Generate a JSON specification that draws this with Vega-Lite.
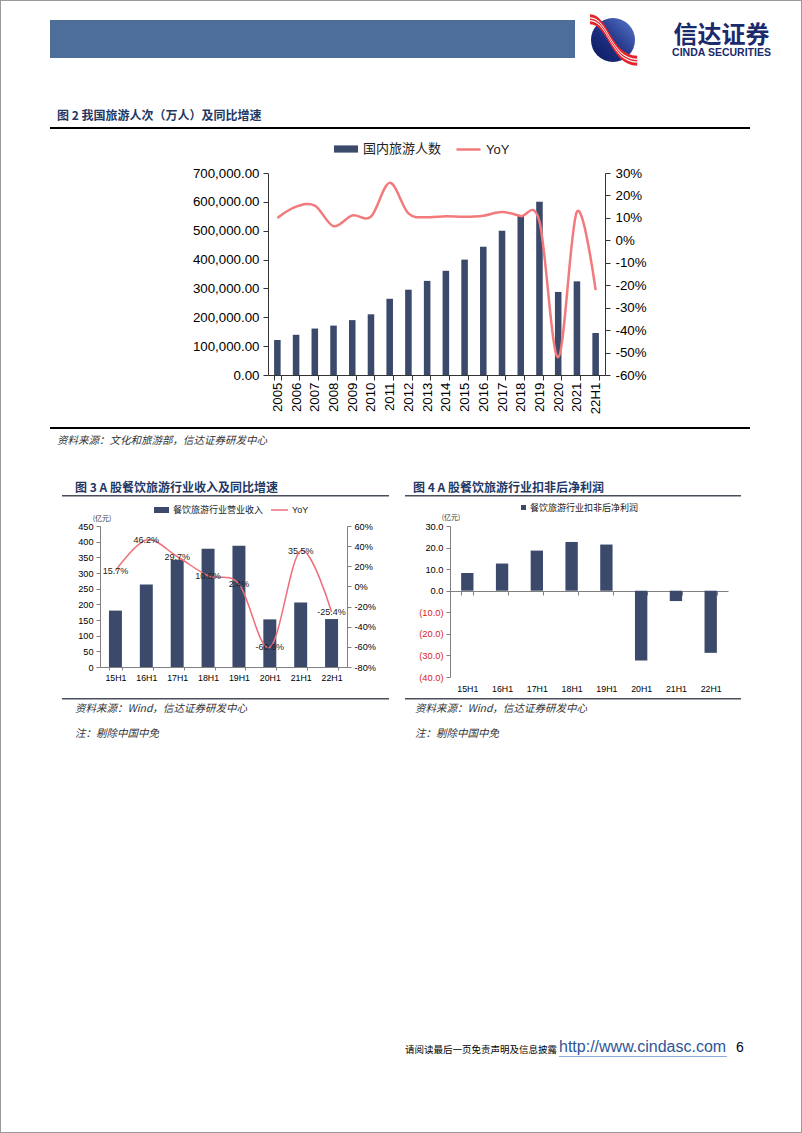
{
"$schema": "https://vega.github.io/schema/vega-lite/v6.json",
"background": "white",
"padding": 0,
"spacing": 0,
"bounds": "flush",
"config": {
  "view": {"stroke": null},
  "font": "Liberation Sans",
  "axis": {"grid": false, "labelOverlap": false, "labelFont": "Liberation Sans", "labelColor": "#000", "domainColor": "#333", "tickColor": "#333"},
  "legend": {"padding": 0},
  "locale": {"number": {"decimal": ".", "thousands": ",", "grouping": [3], "currency": ["$", ""], "minus": "-"}}
},
"resolve": {"scale": {"fill": "independent", "stroke": "independent", "size": "independent", "theta": "independent"}, "legend": {"fill": "independent", "stroke": "independent", "size": "independent"}},
"vconcat": [
  {"width": 802, "height": 1, "data": {"values": []}, "mark": "point", "view": {"fill": "#9a9a9a", "stroke": null}},
  {"width": 802, "height": 19, "data": {"values": []}, "mark": "point", "view": {"stroke": null, "fill": {"gradient": "linear", "x1": 0, "y1": 0, "x2": 1, "y2": 0, "stops": [{"offset": 0, "color": "#9a9a9a"}, {"offset": 0.00124, "color": "#9a9a9a"}, {"offset": 0.00126, "color": "rgba(255,255,255,0)"}, {"offset": 0.99874, "color": "rgba(255,255,255,0)"}, {"offset": 0.99876, "color": "#9a9a9a"}, {"offset": 1, "color": "#9a9a9a"}]}}},
  {"hconcat": [
    {"width": 50, "height": 0, "data": {"values": []}, "mark": "point"},
    {"width": 525, "height": 38, "data": {"values": []}, "mark": "point", "view": {"fill": "#4D6E98", "stroke": null}},
    {"width": 76, "height": 40, "data": {"values": [{"v": 1}]},
     "layer": [
       {"mark": {"type": "arc", "outerRadius": 22, "fill": {"gradient": "linear", "x1": 1, "y1": 0, "x2": 0, "y2": 1, "stops": [{"offset": 0, "color": "#5A78CC"}, {"offset": 0.6, "color": "#1A2C7E"}, {"offset": 1, "color": "#0B1A5C"}]}},
        "encoding": {"theta": {"field": "v", "type": "quantitative"}}},
       {"mark": {"type": "point", "filled": true, "opacity": 1, "color": "#E3262D", "strokeWidth": 0, "size": 2116, "shape": "M-1,-1.12C-0.2,-1.12 -0.1,0.68 1.05,0.68L1.05,1.12C-0.1,1.12 -0.2,-0.68 -1,-0.68Z"},
        "encoding": {}},
       {"mark": {"type": "point", "filled": true, "opacity": 1, "color": "#FFFFFF", "strokeWidth": 0, "size": 2116, "shape": "M-1,-0.99C-0.2,-0.99 -0.1,0.81 1.05,0.81L1.05,0.87C-0.1,0.87 -0.2,-0.93 -1,-0.93Z"},
        "encoding": {}},
       {"mark": {"type": "point", "filled": true, "opacity": 1, "color": "#FFFFFF", "strokeWidth": 0, "size": 2116, "shape": "M-1,-0.87C-0.2,-0.87 -0.1,0.93 1.05,0.93L1.05,0.99C-0.1,0.99 -0.2,-0.81 -1,-0.81Z"},
        "encoding": {}}
     ]},
    {"width": 141, "height": 38,
     "data": {"values": [{"t": "信达证券", "k": "a"}, {"t": "CINDA SECURITIES", "k": "b"}]},
     "mark": {"type": "text", "fontWeight": "bold", "color": "#1B2A6B", "font": "Liberation Sans, Noto Sans CJK SC", "baseline": "middle", "align": "center"},
     "encoding": {
       "text": {"field": "t"},
       "y": {"field": "k", "type": "nominal", "axis": null, "scale": {"range": [15.5, 33], "padding": 0}},
       "size": {"field": "k", "type": "nominal", "legend": null, "scale": {"range": [24, 10.5]}}
     }}
  ], "spacing": 0, "bounds": "flush",
   "resolve": {"scale": {"size": "independent", "theta": "independent"}, "legend": {"size": "independent"}}},
  {"width": 802, "height": 107, "data": {"values": []}, "mark": "point", "view": {"stroke": null, "fill": {"gradient": "linear", "x1": 0, "y1": 0, "x2": 1, "y2": 0, "stops": [{"offset": 0, "color": "#9a9a9a"}, {"offset": 0.00124, "color": "#9a9a9a"}, {"offset": 0.00126, "color": "rgba(255,255,255,0)"}, {"offset": 0.99874, "color": "rgba(255,255,255,0)"}, {"offset": 0.99876, "color": "#9a9a9a"}, {"offset": 1, "color": "#9a9a9a"}]}}},
  {"hconcat": [
    {"width": 50, "height": 0, "data": {"values": []}, "mark": "point"},
    {"width": 700, "height": 2, "data": {"values": []}, "mark": "point", "view": {"fill": "#000000", "stroke": null},
     "title": {"text": "图 2 我国旅游人次（万人）及同比增速", "anchor": "start", "frame": "group", "dx": 7, "offset": 4.5, "fontSize": 12, "font": "Noto Sans CJK SC", "fontWeight": "bold", "color": "#1F3864"}}
  ], "spacing": 0, "bounds": "flush"},
  {"width": 802, "height": 46, "data": {"values": []}, "mark": "point", "view": {"stroke": null, "fill": {"gradient": "linear", "x1": 0, "y1": 0, "x2": 1, "y2": 0, "stops": [{"offset": 0, "color": "#9a9a9a"}, {"offset": 0.00124, "color": "#9a9a9a"}, {"offset": 0.00126, "color": "rgba(255,255,255,0)"}, {"offset": 0.99874, "color": "rgba(255,255,255,0)"}, {"offset": 0.99876, "color": "#9a9a9a"}, {"offset": 1, "color": "#9a9a9a"}]}}},
  {"hconcat": [
    {"width": 268, "height": 0, "data": {"values": []}, "mark": "point"},
    {"width": 337, "height": 202,
     "data": {"values": [
       {"year": "2005", "visitors": 121200, "yoy": 0.100},
       {"year": "2006", "visitors": 139400, "yoy": 0.150},
       {"year": "2007", "visitors": 161000, "yoy": 0.155},
       {"year": "2008", "visitors": 171200, "yoy": 0.063},
       {"year": "2009", "visitors": 190200, "yoy": 0.111},
       {"year": "2010", "visitors": 210300, "yoy": 0.106},
       {"year": "2011", "visitors": 264100, "yoy": 0.256},
       {"year": "2012", "visitors": 295700, "yoy": 0.120},
       {"year": "2013", "visitors": 326200, "yoy": 0.103},
       {"year": "2014", "visitors": 361100, "yoy": 0.107},
       {"year": "2015", "visitors": 399900, "yoy": 0.105},
       {"year": "2016", "visitors": 444000, "yoy": 0.110},
       {"year": "2017", "visitors": 500100, "yoy": 0.126},
       {"year": "2018", "visitors": 553900, "yoy": 0.108},
       {"year": "2019", "visitors": 600600, "yoy": 0.084},
       {"year": "2020", "visitors": 287900, "yoy": -0.521},
       {"year": "2021", "visitors": 324600, "yoy": 0.128},
       {"year": "22H1", "visitors": 145500, "yoy": -0.222}
     ]},
     "encoding": {"x": {"field": "year", "type": "nominal", "sort": null, "scale": {"paddingInner": 0.65, "paddingOuter": 0.325},
       "axis": {"title": null, "labelAngle": 270, "labelFontSize": 13.3, "tickBand": "extent", "tickSize": 5, "labelPadding": 2}}},
     "layer": [
       {"mark": {"type": "bar"},
        "encoding": {
          "y": {"field": "visitors", "type": "quantitative", "scale": {"domain": [0, 700000], "nice": false},
            "axis": {"title": null, "values": [0, 100000, 200000, 300000, 400000, 500000, 600000, 700000], "format": ",.2f", "labelFontSize": 13.3, "tickSize": 5, "labelPadding": 4}},
          "fill": {"datum": "国内旅游人数", "type": "nominal", "scale": {"range": ["#3B4A6B"]},
            "legend": {"title": null, "orient": "none", "legendX": 65, "legendY": -37, "symbolType": "M-1,-0.3H1V0.3H-1Z", "symbolSize": 576, "labelFontSize": 13, "labelFont": "Noto Sans CJK SC", "labelOffset": 4, "labelColor": "#222"}}
        }},
       {"mark": {"type": "line", "interpolate": "cardinal", "strokeWidth": 2.5},
        "encoding": {
          "y": {"field": "yoy", "type": "quantitative", "scale": {"domain": [-0.6, 0.3], "nice": false, "zero": false},
            "axis": {"title": null, "orient": "right", "values": [-0.6, -0.5, -0.4, -0.3, -0.2, -0.1, 0, 0.1, 0.2, 0.3], "format": ".0%", "labelFontSize": 13.3, "tickSize": 5, "labelPadding": 5}},
          "stroke": {"datum": "YoY", "type": "nominal", "scale": {"range": ["#F27A7D"]},
            "legend": {"title": null, "orient": "none", "legendX": 187, "legendY": -37, "symbolType": "stroke", "symbolSize": 576, "symbolStrokeWidth": 2.5, "labelFontSize": 13, "labelOffset": 4, "labelColor": "#222"}}
        }}
     ],
     "resolve": {"scale": {"y": "independent"}}
    }
  ], "spacing": 0, "bounds": "flush",
   "resolve": {"scale": {"fill": "independent", "stroke": "independent"}, "legend": {"fill": "independent", "stroke": "independent"}}},
  {"width": 802, "height": 254, "data": {"values": []}, "mark": "point", "view": {"stroke": null, "fill": {"gradient": "linear", "x1": 0, "y1": 0, "x2": 1, "y2": 0, "stops": [{"offset": 0, "color": "#9a9a9a"}, {"offset": 0.00124, "color": "#9a9a9a"}, {"offset": 0.00126, "color": "rgba(255,255,255,0)"}, {"offset": 0.99874, "color": "rgba(255,255,255,0)"}, {"offset": 0.99876, "color": "#9a9a9a"}, {"offset": 1, "color": "#9a9a9a"}]}}},
  {"hconcat": [
    {"width": 50, "height": 0, "data": {"values": []}, "mark": "point"},
    {"width": 700, "height": 2, "data": {"values": []}, "mark": "point", "view": {"fill": "#000000", "stroke": null},
     "title": {"text": "资料来源：文化和旅游部，信达证券研发中心", "orient": "bottom", "anchor": "start", "frame": "group", "dx": 7, "offset": 7, "fontSize": 10.5, "fontStyle": "italic", "fontWeight": "normal", "font": "Noto Sans CJK SC", "color": "#333"}}
  ], "spacing": 0, "bounds": "flush"},
  {"width": 802, "height": 68, "data": {"values": []}, "mark": "point", "view": {"stroke": null, "fill": {"gradient": "linear", "x1": 0, "y1": 0, "x2": 1, "y2": 0, "stops": [{"offset": 0, "color": "#9a9a9a"}, {"offset": 0.00124, "color": "#9a9a9a"}, {"offset": 0.00126, "color": "rgba(255,255,255,0)"}, {"offset": 0.99874, "color": "rgba(255,255,255,0)"}, {"offset": 0.99876, "color": "#9a9a9a"}, {"offset": 1, "color": "#9a9a9a"}]}}},
  {"hconcat": [
    {"width": 62, "height": 0, "data": {"values": []}, "mark": "point"},
    {"width": 327, "height": 1.5, "data": {"values": []}, "mark": "point", "view": {"fill": "#4A4F5C", "stroke": null},
     "title": {"text": "图 3 A 股餐饮旅游行业收入及同比增速", "anchor": "start", "frame": "group", "dx": 13, "offset": 0.5, "fontSize": 12, "font": "Noto Sans CJK SC", "fontWeight": "bold", "color": "#1F3864"}},
    {"width": 16, "height": 0, "data": {"values": []}, "mark": "point"},
    {"width": 336, "height": 1.5, "data": {"values": []}, "mark": "point", "view": {"fill": "#4A4F5C", "stroke": null},
     "title": {"text": "图 4 A 股餐饮旅游行业扣非后净利润", "anchor": "start", "frame": "group", "dx": 8, "offset": 0.5, "fontSize": 12, "font": "Noto Sans CJK SC", "fontWeight": "bold", "color": "#1F3864"}}
  ], "spacing": 0, "bounds": "flush"},
  {"width": 802, "height": 31, "data": {"values": []}, "mark": "point", "view": {"stroke": null, "fill": {"gradient": "linear", "x1": 0, "y1": 0, "x2": 1, "y2": 0, "stops": [{"offset": 0, "color": "#9a9a9a"}, {"offset": 0.00124, "color": "#9a9a9a"}, {"offset": 0.00126, "color": "rgba(255,255,255,0)"}, {"offset": 0.99874, "color": "rgba(255,255,255,0)"}, {"offset": 0.99876, "color": "#9a9a9a"}, {"offset": 1, "color": "#9a9a9a"}]}}},
  {"hconcat": [
    {"width": 100, "height": 0, "data": {"values": []}, "mark": "point"},
    {"width": 247, "height": 141,
     "data": {"values": [
       {"p": "15H1", "rev": 180, "yoy": 0.157},
       {"p": "16H1", "rev": 263, "yoy": 0.462},
       {"p": "17H1", "rev": 342, "yoy": 0.297},
       {"p": "18H1", "rev": 377, "yoy": 0.106},
       {"p": "19H1", "rev": 387, "yoy": 0.024},
       {"p": "20H1", "rev": 152, "yoy": -0.606},
       {"p": "21H1", "rev": 206, "yoy": 0.355},
       {"p": "22H1", "rev": 153, "yoy": -0.254}
     ]},
     "encoding": {"x": {"field": "p", "type": "nominal", "sort": null, "scale": {"paddingInner": 0.58, "paddingOuter": 0.29},
       "axis": {"title": null, "labelAngle": 0, "labelFontSize": 8.8, "tickBand": "extent", "tickSize": 3, "labelPadding": 3, "domainColor": "#808080", "tickColor": "#808080"}}},
     "layer": [
       {"mark": {"type": "bar"},
        "encoding": {
          "y": {"field": "rev", "type": "quantitative", "scale": {"domain": [0, 450], "nice": false},
            "axis": {"title": "(亿元)", "titleAngle": 0, "titleX": 1.5, "titleY": -8, "titleAlign": "center", "titleBaseline": "middle", "titleFont": "Noto Sans CJK SC", "titleFontSize": 7, "titleFontWeight": "normal", "titleColor": "#333",
              "values": [0, 50, 100, 150, 200, 250, 300, 350, 400, 450], "labelFontSize": 9.2, "tickSize": 4, "labelPadding": 3, "domainColor": "#808080", "tickColor": "#808080"}},
          "fill": {"datum": "餐饮旅游行业营业收入", "type": "nominal", "scale": {"range": ["#3B4A6B"]},
            "legend": {"title": null, "orient": "none", "legendX": 53, "legendY": -24.5, "symbolType": "M-1,-0.4H1V0.4H-1Z", "symbolSize": 225, "labelFontSize": 9, "labelFont": "Noto Sans CJK SC", "labelOffset": 3, "labelColor": "#222"}}
        }},
       {"layer": [
         {"mark": {"type": "line", "interpolate": "cardinal", "strokeWidth": 1.5},
          "encoding": {
            "y": {"field": "yoy", "type": "quantitative", "scale": {"domain": [-0.8, 0.6], "nice": false, "zero": false},
              "axis": {"title": null, "orient": "right", "values": [-0.8, -0.6, -0.4, -0.2, 0, 0.2, 0.4, 0.6], "format": ".0%", "labelFontSize": 9.2, "tickSize": 4, "labelPadding": 3, "domainColor": "#808080", "tickColor": "#808080"}},
            "stroke": {"datum": "YoY", "type": "nominal", "scale": {"range": ["#EE6E78"]},
              "legend": {"title": null, "orient": "none", "legendX": 170, "legendY": -25.5, "symbolType": "stroke", "symbolSize": 289, "symbolStrokeWidth": 1.5, "labelFontSize": 9, "labelOffset": 3, "labelColor": "#222"}}
          }},
         {"mark": {"type": "text", "fontSize": 9, "color": "#222", "baseline": "middle", "align": "center"},
          "encoding": {
            "y": {"field": "yoy", "type": "quantitative", "scale": {"domain": [-0.8, 0.6], "nice": false, "zero": false},
              "axis": {"title": null, "orient": "right", "values": [-0.8, -0.6, -0.4, -0.2, 0, 0.2, 0.4, 0.6], "format": ".0%", "labelFontSize": 9.2, "tickSize": 4, "labelPadding": 3, "domainColor": "#808080", "tickColor": "#808080"}},
            "text": {"field": "yoy", "type": "quantitative", "format": ".1%"}
          }}
       ]}
     ],
     "resolve": {"scale": {"y": "independent"}}
    },
    {"width": 103, "height": 0, "data": {"values": []}, "mark": "point"},
    {"width": 278, "height": 151,
     "data": {"values": [
       {"p": "15H1", "np": 8.2},
       {"p": "16H1", "np": 12.6},
       {"p": "17H1", "np": 18.6},
       {"p": "18H1", "np": 22.6},
       {"p": "19H1", "np": 21.4},
       {"p": "20H1", "np": -32.4},
       {"p": "21H1", "np": -4.8},
       {"p": "22H1", "np": -28.8}
     ]},
     "mark": {"type": "bar"},
     "encoding": {
       "x": {"field": "p", "type": "nominal", "sort": null, "scale": {"paddingInner": 0.645, "paddingOuter": 0.32},
         "axis": {"title": null, "labelAngle": 0, "labelFontSize": 8.8, "tickBand": "extent", "tickSize": 4, "offset": -86, "labelPadding": 89, "domainColor": "#808080", "tickColor": "#808080"}},
       "y": {"field": "np", "type": "quantitative", "scale": {"domain": [-40, 30], "nice": false},
         "axis": {"title": "(亿元)", "titleAngle": 0, "titleX": 0.5, "titleY": -9, "titleAlign": "center", "titleBaseline": "middle", "titleFont": "Noto Sans CJK SC", "titleFontSize": 7, "titleFontWeight": "normal", "titleColor": "#333",
           "values": [-40, -30, -20, -10, 0, 10, 20, 30],
           "labelExpr": "datum.value < 0 ? '(' + format(-datum.value, '.1f') + ')' : format(datum.value, '.1f')",
           "labelColor": {"condition": {"test": "datum.value < 0", "value": "#E0201B"}, "value": "#000000"},
           "labelFontSize": 9.3, "tickSize": 4, "labelPadding": 3, "domainColor": "#808080", "tickColor": "#808080"}},
       "fill": {"datum": "餐饮旅游行业扣非后净利润", "type": "nominal", "scale": {"range": ["#3B4A6B"]},
         "legend": {"title": null, "orient": "none", "legendX": 69, "legendY": -23, "symbolType": "square", "symbolSize": 25, "labelFontSize": 9, "labelFont": "Noto Sans CJK SC", "labelOffset": 2, "labelColor": "#222"}}
     }
    }
  ], "spacing": 0, "bounds": "flush",
   "resolve": {"scale": {"fill": "independent", "stroke": "independent", "x": "independent", "y": "independent"}, "legend": {"fill": "independent", "stroke": "independent"}}},
  {"width": 802, "height": 172, "data": {"values": []}, "mark": "point", "view": {"stroke": null, "fill": {"gradient": "linear", "x1": 0, "y1": 0, "x2": 1, "y2": 0, "stops": [{"offset": 0, "color": "#9a9a9a"}, {"offset": 0.00124, "color": "#9a9a9a"}, {"offset": 0.00126, "color": "rgba(255,255,255,0)"}, {"offset": 0.99874, "color": "rgba(255,255,255,0)"}, {"offset": 0.99876, "color": "#9a9a9a"}, {"offset": 1, "color": "#9a9a9a"}]}}},
  {"hconcat": [
    {"width": 62, "height": 0, "data": {"values": []}, "mark": "point"},
    {"width": 327, "height": 1.5, "data": {"values": []}, "mark": "point", "view": {"fill": "#4A4F5C", "stroke": null},
     "title": {"text": "资料来源：Wind，信达证券研发中心", "subtitle": "注：剔除中国中免", "orient": "bottom", "anchor": "start", "frame": "group", "dx": 13, "offset": 4, "fontSize": 10.5, "fontStyle": "italic", "fontWeight": "normal", "font": "Noto Sans CJK SC", "color": "#333",
       "subtitleFontSize": 10.5, "subtitleFontStyle": "italic", "subtitleFont": "Noto Sans CJK SC", "subtitleColor": "#333", "subtitlePadding": 14.5}},
    {"width": 16, "height": 0, "data": {"values": []}, "mark": "point"},
    {"width": 336, "height": 1.5, "data": {"values": []}, "mark": "point", "view": {"fill": "#4A4F5C", "stroke": null},
     "title": {"text": "资料来源：Wind，信达证券研发中心", "subtitle": "注：剔除中国中免", "orient": "bottom", "anchor": "start", "frame": "group", "dx": 10, "offset": 4, "fontSize": 10.5, "fontStyle": "italic", "fontWeight": "normal", "font": "Noto Sans CJK SC", "color": "#333",
       "subtitleFontSize": 10.5, "subtitleFontStyle": "italic", "subtitleFont": "Noto Sans CJK SC", "subtitleColor": "#333", "subtitlePadding": 14.5}}
  ], "spacing": 0, "bounds": "flush"},
  {"width": 802, "height": 358, "data": {"values": []}, "mark": "point", "view": {"stroke": null, "fill": {"gradient": "linear", "x1": 0, "y1": 0, "x2": 1, "y2": 0, "stops": [{"offset": 0, "color": "#9a9a9a"}, {"offset": 0.00124, "color": "#9a9a9a"}, {"offset": 0.00126, "color": "rgba(255,255,255,0)"}, {"offset": 0.99874, "color": "rgba(255,255,255,0)"}, {"offset": 0.99876, "color": "#9a9a9a"}, {"offset": 1, "color": "#9a9a9a"}]}}},
  {"hconcat": [
    {"width": 405, "height": 0, "data": {"values": []}, "mark": "point"},
    {"width": 154, "height": 1, "data": {"values": []}, "mark": "point",
     "title": {"text": "请阅读最后一页免责声明及信息披露", "anchor": "start", "frame": "group", "dx": 0, "offset": 2, "fontSize": 9.5, "font": "Noto Sans CJK SC", "fontWeight": "normal", "color": "#000"}},
    {"width": 168, "height": 1, "data": {"values": []}, "mark": "point", "view": {"fill": "#8FAADC", "stroke": null},
     "title": {"text": "http://www.cindasc.com", "anchor": "start", "frame": "group", "dx": 0, "offset": 1, "fontSize": 16, "font": "Liberation Sans", "fontWeight": "normal", "color": "#2F5597"}},
    {"width": 20, "height": 1, "data": {"values": []}, "mark": "point",
     "title": {"text": "6", "anchor": "start", "frame": "group", "dx": 9, "offset": 1, "fontSize": 14, "font": "Liberation Sans", "fontWeight": "normal", "color": "#000"}}
  ], "spacing": 0, "bounds": "flush"},
  {"width": 802, "height": 76, "data": {"values": []}, "mark": "point", "view": {"stroke": null, "fill": {"gradient": "linear", "x1": 0, "y1": 0, "x2": 1, "y2": 0, "stops": [{"offset": 0, "color": "#9a9a9a"}, {"offset": 0.00124, "color": "#9a9a9a"}, {"offset": 0.00126, "color": "rgba(255,255,255,0)"}, {"offset": 0.99874, "color": "rgba(255,255,255,0)"}, {"offset": 0.99876, "color": "#9a9a9a"}, {"offset": 1, "color": "#9a9a9a"}]}}},
  {"width": 802, "height": 1, "data": {"values": []}, "mark": "point", "view": {"fill": "#9a9a9a", "stroke": null}}
]
}
